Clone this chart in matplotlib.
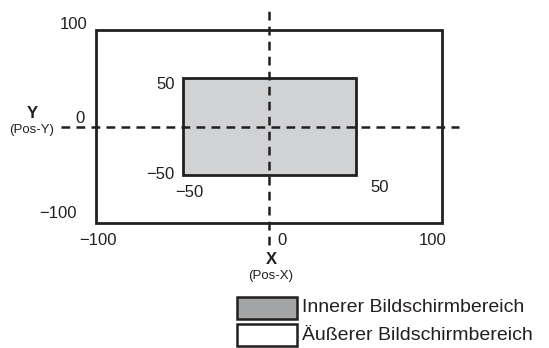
import matplotlib.pyplot as plt
from matplotlib.patches import Rectangle

plt.rcParams['font.family'] = ['Liberation Sans', 'DejaVu Sans']

# regions (x0, y0, x1, y1) in screen position units
outer = (-100, -100, 100, 100)
inner = (-50, -50, 50, 50)
x_axis_span = (-120, 110)
y_axis_span = (-122, 121)

# tick labels: text, anchor point, pixel offset, horizontal alignment
labels = [
    ('100', (-100, 100), (-8, 5), 'right'),
    ('0', (-100, 0), (-11, 8), 'right'),
    ('\u2212100', (-100, -100), (-19, 10), 'right'),
    ('\u2212100', (-100, -100), (2, -17), 'center'),
    ('0', (0, -100), (8, -17), 'left'),
    ('100', (100, -100), (-9, -17), 'center'),
    ('50', (-50, 50), (-8, -6), 'right'),
    ('\u221250', (-50, -50), (-8, 0), 'right'),
    ('\u221250', (-50, -50), (7, -18), 'center'),
    ('50', (50, -50), (24, -13), 'center'),
]
legend_names = ['Innerer Bildschirmbereich', '\u00c4u\u00dferer Bildschirmbereich']
legend_colors = ['#a3a4a6', 'white']

W, H = 549, 348
fig = plt.figure(figsize=(W / 100, H / 100), dpi=100)
ax = fig.add_axes([0, 0, 1, 1])
ax.set_xlim((0 - 269) / 1.73, (W - 269) / 1.73)
ax.set_ylim((126.5 - H) / 0.968, 126.5 / 0.968)
ax.axis('off')

line = '#231f20'
ax.add_patch(Rectangle((outer[0], outer[1]), outer[2] - outer[0], outer[3] - outer[1],
                       facecolor='white', edgecolor=line, lw=2, zorder=1))
ax.add_patch(Rectangle((inner[0], inner[1]), inner[2] - inner[0], inner[3] - inner[1],
                       facecolor='#d1d2d4', edgecolor=line, lw=2, zorder=2))
ax.plot(x_axis_span, [0, 0], color=line, lw=1.8, dashes=(3.5, 2.5), zorder=3)
ax.plot([0, 0], y_axis_span, color=line, lw=1.8, dashes=(3.5, 2.5), zorder=3)

for txt, xy, off, ha in labels:
    ax.annotate(txt, xy=xy, xytext=off, textcoords='offset pixels',
                ha=ha, va='center', fontsize=12, color=line)

# axis names
fig.text(32 / W, 1 - 113 / H, 'Y', ha='center', va='center', fontsize=12, fontweight='bold', color=line)
fig.text(32 / W, 1 - 130 / H, '(Pos-Y)', ha='center', va='center', fontsize=9.5, color=line)
fig.text(271 / W, 1 - 260 / H, 'X', ha='center', va='center', fontsize=12, fontweight='bold', color=line)
fig.text(271 / W, 1 - 276 / H, '(Pos-X)', ha='center', va='center', fontsize=9.5, color=line)

# legend
for i, (name, col) in enumerate(zip(legend_names, legend_colors)):
    top = 297 + i * 27
    fig.patches.append(Rectangle((237 / W, 1 - (top + 22) / H), 60 / W, 22 / H,
                                 transform=fig.transFigure, facecolor=col,
                                 edgecolor=line, lw=1.8))
    fig.text(302 / W, 1 - (top + 11) / H, name, ha='left', va='center',
             fontsize=14, color=line)

fig.savefig('out.png', dpi=100)
